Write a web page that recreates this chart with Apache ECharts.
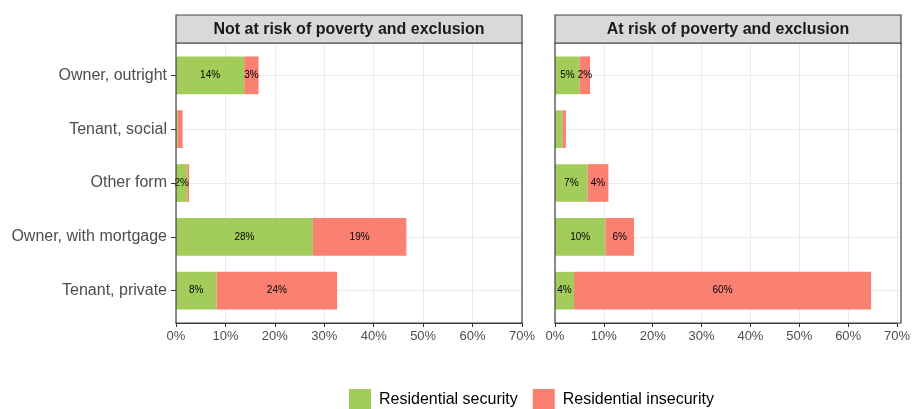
<!DOCTYPE html>
<html>
<head>
<meta charset="utf-8">
<script src="https://cdn.jsdelivr.net/npm/echarts@6/dist/echarts.min.js"></script>
<style>
html,body{margin:0;padding:0;background:#fff;}
#chart{width:913px;height:409px;}
</style>
</head>
<body>
<div id="chart"></div>
<script>
// ---- data (top to bottom order) ----
const categories = ['Owner, outright', 'Tenant, social', 'Other form', 'Owner, with mortgage', 'Tenant, private'];
const panelTitles = ['Not at risk of poverty and exclusion', 'At risk of poverty and exclusion'];
const seriesNames = ['Residential security', 'Residential insecurity'];
// Not at risk of poverty and exclusion
const notRiskSecurity   = [13.8, 0.3, 2.3, 27.7, 8.2];
const notRiskInsecurity = [2.9, 1.05, 0.35, 18.9, 24.4];
// At risk of poverty and exclusion
const riskSecurity   = [5.0, 1.5, 6.6, 10.2, 3.85];
const riskInsecurity = [2.1, 0.7, 4.2, 5.8, 60.1];
const xTicks = [0, 10, 20, 30, 40, 50, 60, 70];

const colors = ['#A2CD5A', '#FA8072'];
const FONT = 'Liberation Sans, Arial, Helvetica, sans-serif';

const chart = echarts.init(document.getElementById('chart'), null, {renderer: 'canvas'});

// panel geometry
const panelLefts = [176, 555];
const panelWidth = 346;
const panelTop = 43;
const panelHeight = 280;
const unit = panelHeight / 5.2;           // ggplot discrete expansion 0.6 each side
const innerTop = panelTop + 0.6 * unit - unit / 2;
const innerHeight = unit * 5;

const grids = [], xAxes = [], yAxes = [], series = [], graphics = [];
const panelData = [[notRiskSecurity, notRiskInsecurity], [riskSecurity, riskInsecurity]];

panelLefts.forEach((left, p) => {
  // outer grid: x axis, vertical grid lines
  grids.push({left: left, width: panelWidth, top: panelTop, height: panelHeight, containLabel: false});
  // inner grid: categories & bars
  grids.push({left: left, width: panelWidth, top: innerTop, height: innerHeight, containLabel: false});
  const gA = p * 2, gB = p * 2 + 1;
  xAxes.push({
    type: 'value', gridIndex: gA, min: xTicks[0], max: xTicks[xTicks.length - 1], interval: 10,
    axisLine: {show: true, lineStyle: {color: '#333', width: 1}},
    axisTick: {show: true, length: 4, lineStyle: {color: '#333'}},
    axisLabel: {formatter: '{value}%', color: '#4d4d4d', fontSize: 13, fontFamily: FONT, margin: 7},
    splitLine: {show: true, lineStyle: {color: '#ebebeb', width: 1}}
  });
  xAxes.push({type: 'value', gridIndex: gB, min: xTicks[0], max: xTicks[xTicks.length - 1], show: false});
  yAxes.push({type: 'value', gridIndex: gA, show: false, min: 0, max: 1, splitLine: {show: false}});
  yAxes.push({
    type: 'category', gridIndex: gB, data: categories, inverse: true,
    axisLine: {show: false},
    axisTick: {show: p === 0, alignWithLabel: true, length: 5, lineStyle: {color: '#333'}},
    axisLabel: {show: p === 0, color: '#4d4d4d', fontSize: 16, fontFamily: FONT, margin: 9},
    splitLine: {show: true, alignWithLabel: true, lineStyle: {color: '#ebebeb', width: 1}}
  });
  panelData[p].forEach((vals, s) => {
    series.push({
      type: 'bar', name: seriesNames[s], stack: 'p' + p,
      xAxisIndex: gB, yAxisIndex: gB, data: vals, barWidth: '70%',
      itemStyle: {color: colors[s]},
      label: {show: true, position: 'inside', color: '#000', fontSize: 10, fontFamily: FONT,
        formatter: (d) => d.value >= 2 ? Math.round(d.value) + '%' : ''},
      emphasis: {disabled: true}
    });
  });
  // panel border
  graphics.push({type: 'rect', z: 10, silent: true,
    shape: {x: left, y: panelTop, width: panelWidth, height: panelHeight},
    style: {fill: 'none', stroke: '#444', lineWidth: 1.2}});
  // strip
  graphics.push({type: 'rect', z: 10,
    shape: {x: left, y: 15, width: panelWidth, height: 28},
    style: {fill: '#d9d9d9', stroke: '#444', lineWidth: 1.2}});
  graphics.push({type: 'text', z: 11, x: left + panelWidth / 2, y: 29.5,
    style: {text: panelTitles[p], fill: '#1a1a1a', font: 'bold 16px ' + FONT,
      align: 'center', verticalAlign: 'middle', textAlign: 'center', textVerticalAlign: 'middle'}});
});

chart.setOption({
  animation: false,
  backgroundColor: '#fff',
  textStyle: {fontFamily: FONT},
  grid: grids,
  xAxis: xAxes,
  yAxis: yAxes,
  series: series,
  legend: {
    data: seriesNames, left: 349, top: 389, padding: 0, icon: 'rect',
    itemWidth: 22, itemHeight: 22, itemGap: 15,
    textStyle: {fontSize: 16, color: '#000', fontFamily: FONT, padding: [6, 0, 0, 3]}
  },
  graphic: graphics
});
</script>
</body>
</html>
